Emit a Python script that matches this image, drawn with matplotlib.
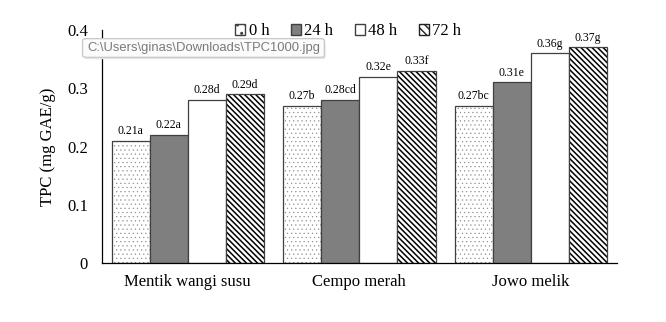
import matplotlib
matplotlib.use("Agg")
import matplotlib.pyplot as plt
import numpy as np
from matplotlib.patches import Patch, FancyBboxPatch

categories = ["Mentik wangi susu", "Cempo merah", "Jowo melik"]
series_names = ["0 h", "24 h", "48 h", "72 h"]
values = {
    "0 h": [0.21, 0.27, 0.27],
    "24 h": [0.22, 0.28, 0.31],
    "48 h": [0.28, 0.32, 0.36],
    "72 h": [0.29, 0.33, 0.37],
}
letters = {
    "0 h": ["0.21a", "0.27b", "0.27bc"],
    "24 h": ["0.22a", "0.28cd", "0.31e"],
    "48 h": ["0.28d", "0.32e", "0.36g"],
    "72 h": ["0.29d", "0.33f", "0.37g"],
}
yticks = [0, 0.1, 0.2, 0.3, 0.4]
ytick_labels = ["0", "0.1", "0.2", "0.3", "0.4"]

plt.rcParams["font.family"] = ["Liberation Serif", "DejaVu Serif"]

fig = plt.figure(figsize=(6.66, 3.22), dpi=100)
ax = fig.add_axes([0.153, 0.183, 0.773, 0.724])

styles = {
    "0 h": dict(color="white", hatch="....", hatchcolor="#8a8a8a", hlw=0.35),
    "24 h": dict(color="#7f7f7f", hatch=None, hatchcolor=None, hlw=1.0),
    "48 h": dict(color="white", hatch=None, hatchcolor=None, hlw=1.0),
    "72 h": dict(color="white", hatch="\\\\\\\\\\\\", hatchcolor="black", hlw=1.1),
}

x = np.arange(len(categories))
w = 0.222
offsets = [-1.5, -0.5, 0.5, 1.5]
for s, off in zip(series_names, offsets):
    st = styles[s]
    pos = x + off * w
    if st["hatch"]:
        with plt.rc_context({"hatch.linewidth": st["hlw"]}):
            ax.bar(pos, values[s], w, color=st["color"], hatch=st["hatch"],
                   edgecolor=st["hatchcolor"], linewidth=0)
    ax.bar(pos, values[s], w, facecolor="none" if st["hatch"] else st["color"],
           edgecolor="#404040", linewidth=0.9)
    for xi, v, lab in zip(pos, values[s], letters[s]):
        ax.text(xi, v + 0.006, lab, ha="center", va="bottom", fontsize=8.5)

ax.set_xlim(-0.5, 2.5)
ax.set_ylim(0, 0.4)
ax.set_yticks(yticks)
ax.set_yticklabels(ytick_labels, fontsize=12)
ax.set_xticks(x)
ax.set_xticklabels(categories, fontsize=12)
ax.tick_params(length=0, pad=10)
ax.tick_params(axis="x", pad=8)
for sp in ["top", "right"]:
    ax.spines[sp].set_visible(False)
ax.spines["left"].set_color("black")
ax.spines["bottom"].set_color("black")
ax.spines["left"].set_linewidth(0.9)
ax.spines["bottom"].set_linewidth(0.9)
ax.set_ylabel("TPC (mg GAE/g)", fontsize=12, labelpad=8)

with plt.rc_context({"hatch.linewidth": 0.6}):
    handles = [
        Patch(facecolor="white", hatch="..", edgecolor="#404040", label="0 h"),
        Patch(facecolor="#7f7f7f", edgecolor="#404040", label="24 h"),
        Patch(facecolor="white", edgecolor="#404040", label="48 h"),
        Patch(facecolor="white", hatch="\\\\\\\\", edgecolor="#202020", label="72 h"),
    ]
fig.legend(handles=handles, loc="center", bbox_to_anchor=(0.523, 0.903), ncol=4,
           frameon=False, fontsize=12, handlelength=0.6, handleheight=0.6,
           handletextpad=0.2, columnspacing=1.3)

# screenshot tooltip overlay
shadow = FancyBboxPatch((0.126, 0.816), 0.363, 0.058, transform=fig.transFigure,
                        boxstyle="round,pad=0.0,rounding_size=0.006",
                        facecolor="#e6e6e6", edgecolor="none", zorder=9)
fig.patches.append(shadow)
box = FancyBboxPatch((0.124, 0.822), 0.363, 0.058, transform=fig.transFigure,
                     boxstyle="round,pad=0.0,rounding_size=0.006",
                     facecolor="#fbfbfb", edgecolor="#c8c8c8", linewidth=0.9, zorder=10)
fig.patches.append(box)
fig.text(0.131, 0.851, "C:\\Users\\ginas\\Downloads\\TPC1000.jpg", fontsize=9.4,
         color="#7a7a7a", family=["Liberation Sans", "DejaVu Sans"], va="center",
         ha="left", zorder=11)

fig.savefig("out.png", dpi=100)
